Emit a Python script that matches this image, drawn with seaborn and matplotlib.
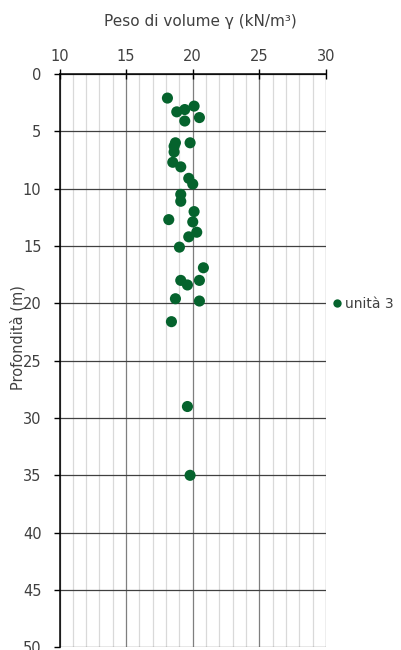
import matplotlib
matplotlib.use("Agg")
import matplotlib.pyplot as plt
import seaborn as sns
import pandas as pd
from matplotlib.ticker import MultipleLocator

# Data
peso = [18.1, 20.1, 18.8, 19.4, 20.5, 19.4, 18.7, 18.6, 18.6, 19.8, 18.5, 19.1,
        19.7, 20.0, 19.1, 19.1, 20.1, 18.2, 20.0, 20.3, 19.7, 19.0, 20.8, 19.1,
        20.5, 19.6, 18.7, 20.5, 18.4, 19.6, 19.8]
profondita = [2.1, 2.8, 3.3, 3.1, 3.8, 4.1, 6.0, 6.3, 6.8, 6.0, 7.7, 8.1,
              9.1, 9.6, 10.5, 11.1, 12.0, 12.7, 12.9, 13.8, 14.2, 15.1, 16.9, 18.0,
              18.0, 18.4, 19.6, 19.8, 21.6, 29.0, 35.0]
serie = "unità 3"
x_ticks = [10, 15, 20, 25, 30]
y_ticks = [0, 5, 10, 15, 20, 25, 30, 35, 40, 45, 50]

df = pd.DataFrame({"peso": peso, "prof": profondita, "serie": serie})

sns.set_style("white")
plt.rcParams["font.family"] = ["DejaVu Sans"]
text_color = "#404040"

fig = plt.figure(figsize=(4.01, 6.5), dpi=100)
ax = fig.add_axes([59.5 / 401, 1 - 647.3 / 650, (326 - 59.5) / 401, (647.3 - 74) / 650])

sns.scatterplot(data=df, x="peso", y="prof", hue="serie", palette=["#05632d"],
                s=64, edgecolor="none", ax=ax, zorder=5, clip_on=False)

ax.set_xlim(10, 30)
ax.set_ylim(50, 0)
ax.xaxis.set_major_locator(MultipleLocator(5))
ax.xaxis.set_minor_locator(MultipleLocator(1))
ax.set_xticks(x_ticks)
ax.set_yticks(y_ticks)

ax.xaxis.tick_top()
ax.xaxis.set_label_position("top")

ax.grid(which="minor", axis="x", color="#d9d9d9", lw=0.9, zorder=0)
ax.grid(which="major", axis="x", color="#7f7f7f", lw=0.9, zorder=1)
ax.grid(which="major", axis="y", color="#404040", lw=0.9, zorder=1)
ax.set_axisbelow(True)

for s in ["right", "bottom"]:
    ax.spines[s].set_visible(False)
for s in ["left", "top"]:
    ax.spines[s].set_color("black")
    ax.spines[s].set_linewidth(1.1)

ax.tick_params(axis="x", which="major", direction="inout", length=7, width=1,
               color="black", labelsize=10.5, labelcolor=text_color, pad=4, top=True, bottom=False)
ax.tick_params(axis="x", which="minor", length=0)
ax.tick_params(axis="y", which="major", direction="out", length=4, width=1,
               color="black", labelsize=10.5, labelcolor=text_color, pad=9, left=True)

ax.set_xlabel("Peso di volume γ (kN/m³)", fontsize=11, color=text_color)
ax.xaxis.set_label_coords(0.53, 1.083)
ax.set_ylabel("Profondità (m)", fontsize=10.5, color=text_color)
ax.yaxis.set_label_coords(-0.129, 0.54)

leg = ax.legend(loc="center left", bbox_to_anchor=(1.0, 0.599), frameon=False,
                fontsize=10, handlelength=0.8, handletextpad=0.17,
                markerscale=0.75, borderaxespad=0.0)
for t in leg.get_texts():
    t.set_color(text_color)

fig.savefig("out.png", dpi=100)
